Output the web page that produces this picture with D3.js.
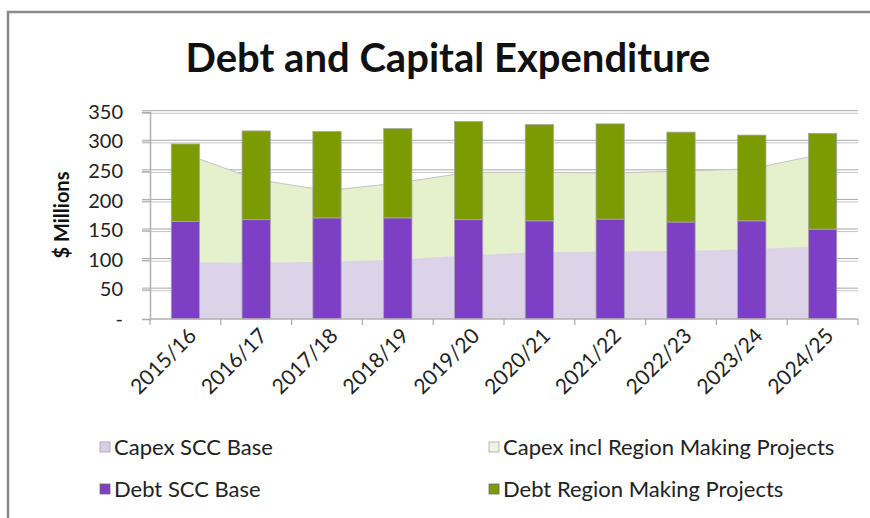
<!DOCTYPE html>
<html>
<head>
<meta charset="utf-8">
<script src="https://cdn.jsdelivr.net/npm/d3@7"></script>
<style>
  html, body { margin: 0; padding: 0; background: #fff; }
  svg { display: block; font-family: Lato, "Open Sans", "DejaVu Sans", sans-serif; }
</style>
</head>
<body>
<svg id="chart" width="870" height="518"></svg>
<script>
// Financial years
const years = ["2015/16","2016/17","2017/18","2018/19","2019/20","2020/21","2021/22","2022/23","2023/24","2024/25"];

// Capital expenditure ($M) – drawn as areas
const capexBase        = [96, 95, 97, 100, 108, 113, 114, 115, 118, 123];
const capexInclRegion  = [279, 236, 217, 230, 248, 248, 247, 250, 254, 279];

// Debt ($M) – drawn as stacked columns
const debtBase   = [165, 168, 171, 171, 168, 166, 169, 164, 166, 152];
const debtRegion = [131, 150, 146, 151, 166, 163, 161, 152, 145, 162];

// Axis ticks
const yTicks = [0, 50, 100, 150, 200, 250, 300, 350];
const yTickLabels = ["-", "50", "100", "150", "200", "250", "300", "350"];

const colors = {
  capexBase: "#dacfeb",
  capexRegion: "#e5f0cd",
  debtBase: "#7d40c4",
  debtRegion: "#7c9b02"
};

const svg = d3.select("#chart");

// Outer chart frame
svg.append("path")
  .attr("d", "M8,518 L8,12 L870,12")
  .attr("fill", "none")
  .attr("stroke", "#8a8a8a")
  .attr("stroke-width", 2.5);

// Title
svg.append("text")
  .attr("x", 448).attr("y", 72)
  .attr("text-anchor", "middle")
  .attr("font-size", 40).attr("font-weight", 700)
  .attr("fill", "#111")
  .text("Debt and Capital Expenditure");

const x = d3.scaleBand().domain(years).range([150, 858]).padding(0);
const y = d3.scaleLinear().domain([0, 350]).range([319, 112]);
const cx = d => x(d) + x.bandwidth() / 2;
const barW = x.bandwidth() * 0.4;

const plot = svg.append("g");

// Gridlines (double hairline)
yTicks.filter(v => v > 0).forEach(v => {
  [-1.3, 1.3].forEach(off => {
    plot.append("line")
      .attr("x1", 142).attr("x2", 858)
      .attr("y1", y(v) + off).attr("y2", y(v) + off)
      .attr("stroke", off < 0 ? "#a9a9a9" : "#c6c6c6")
      .attr("stroke-width", 1);
  });
});

// Capex areas
const areaTotal = d3.area()
  .x((d, i) => cx(years[i]))
  .y0(y(0))
  .y1(d => y(d));

plot.append("path")
  .datum(capexInclRegion)
  .attr("d", areaTotal)
  .attr("fill", colors.capexRegion);

plot.append("path")
  .datum(capexInclRegion)
  .attr("d", d3.line().x((d, i) => cx(years[i])).y(d => y(d)))
  .attr("fill", "none")
  .attr("stroke", "#c4c4c4")
  .attr("stroke-width", 1);

plot.append("path")
  .datum(capexBase)
  .attr("d", areaTotal)
  .attr("fill", colors.capexBase)
  .attr("opacity", 0.9);

// Debt stacked columns
const stackData = years.map((yr, i) => ({ year: yr, base: debtBase[i], region: debtRegion[i] }));
const stacked = d3.stack().keys(["base", "region"])(stackData);
const barColors = { base: colors.debtBase, region: colors.debtRegion };

stacked.forEach(layer => {
  plot.append("g")
    .selectAll("rect")
    .data(layer)
    .join("rect")
    .attr("x", d => cx(d.data.year) - barW / 2)
    .attr("width", barW)
    .attr("y", d => y(d[1]))
    .attr("height", d => y(d[0]) - y(d[1]))
    .attr("fill", barColors[layer.key])
    .attr("stroke", "#a8a8a8")
    .attr("stroke-width", 0.8);
});

// Y axis
const yAxis = d3.axisLeft(y)
  .tickValues(yTicks)
  .tickFormat((d, i) => yTickLabels[i])
  .tickSize(8)
  .tickPadding(19);
const gy = svg.append("g").attr("transform", "translate(150,0)").call(yAxis);
gy.select(".domain").attr("stroke", "#b0b0b0").attr("stroke-width", 1.5);
gy.selectAll(".tick line").attr("stroke", "#a9a9a9");
gy.selectAll(".tick text")
  .attr("font-size", 20).attr("fill", "#222")
  .attr("font-family", "Lato, 'Open Sans', sans-serif");

// X axis with ticks on category boundaries
svg.append("line")
  .attr("x1", 150).attr("x2", 858).attr("y1", y(0)).attr("y2", y(0))
  .attr("stroke", "#b0b0b0").attr("stroke-width", 1.5);
const boundaries = years.map(d => x(d)).concat([x(years[years.length - 1]) + x.bandwidth()]);
svg.append("g").selectAll("line")
  .data(boundaries)
  .join("line")
  .attr("x1", d => d).attr("x2", d => d)
  .attr("y1", y(0)).attr("y2", y(0) + 6)
  .attr("stroke", "#a9a9a9").attr("stroke-width", 1.2);

svg.append("g").selectAll("text")
  .data(years)
  .join("text")
  .attr("transform", d => `translate(${cx(d) + 7},${y(0) + 13}) rotate(-45)`)
  .attr("text-anchor", "end")
  .attr("dy", "0.35em")
  .attr("font-size", 21)
  .attr("fill", "#222")
  .text(d => d);

// Y axis title
svg.append("text")
  .attr("transform", "translate(69,215) rotate(-90)")
  .attr("text-anchor", "middle")
  .attr("font-size", 20).attr("font-weight", 700)
  .attr("fill", "#111")
  .text("$ Millions");

// Legend
const legendItems = [
  { label: "Capex SCC Base", fill: colors.capexBase, stroke: "#a0a0a0", x: 100, y: 447 },
  { label: "Capex incl Region Making Projects", fill: "#eef4e4", stroke: "#a8a8a8", x: 489, y: 447 },
  { label: "Debt SCC Base", fill: colors.debtBase, stroke: "#6a6a6a", x: 100, y: 489 },
  { label: "Debt Region Making Projects", fill: colors.debtRegion, stroke: "#6a6a6a", x: 489, y: 489 }
];
const lg = svg.append("g").selectAll("g").data(legendItems).join("g");
lg.append("rect")
  .attr("x", d => d.x).attr("y", d => d.y - 5)
  .attr("width", 10).attr("height", 10)
  .attr("fill", d => d.fill)
  .attr("stroke", d => d.stroke).attr("stroke-width", 0.8);
lg.append("text")
  .attr("x", d => d.x + 14).attr("y", d => d.y)
  .attr("dy", "0.35em")
  .attr("font-size", 22)
  .attr("fill", "#222")
  .text(d => d.label);
</script>
</body>
</html>
